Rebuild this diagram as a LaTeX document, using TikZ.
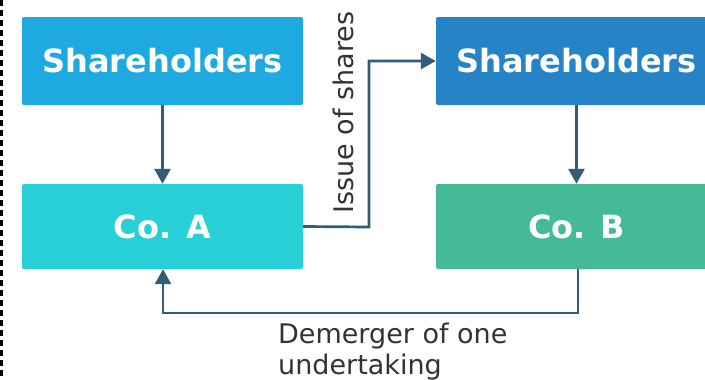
\documentclass[tikz,border=0pt]{standalone}
\usepackage{fontspec}
\setmainfont{DejaVu Sans}
\usetikzlibrary{arrows.meta}
\definecolor{cShA}{HTML}{1EAAE1}
\definecolor{cCoA}{HTML}{29CFD6}
\definecolor{cShB}{HTML}{2684C6}
\definecolor{cCoB}{HTML}{44BA96}
\definecolor{cArr}{HTML}{335C78}
\definecolor{cTxt}{HTML}{333333}
\tikzset{
  box/.style={rectangle, rounded corners=2pt, minimum width=281pt, inner sep=0pt,
    text=white, font=\fontsize{32}{36}\selectfont\bfseries},
  topbox/.style={box, minimum height=88pt},
  botbox/.style={box, minimum height=85pt},
  conn/.style={draw=cArr, line width=2.7pt, -{Triangle[length=15pt,width=16pt]}},
  lbl/.style={text=cTxt, font=\fontsize{27}{31}\selectfont, inner sep=0pt}
}
\begin{document}
\begin{tikzpicture}[x=1pt,y=-1pt]
\clip (0,0) rectangle (705,380);
\fill[white] (0,0) rectangle (705,380);
\draw[black, line width=2.5pt, dash pattern=on 6pt off 4pt] (1.5,0) -- (1.5,380);
\node[topbox, fill=cShA] (sha) at (162.5,61) {Shareholders};
\node[botbox, fill=cCoA] (coa) at (162.5,226.5) {Co. A};
\node[topbox, fill=cShB] (shb) at (576.5,61) {Shareholders};
\node[botbox, fill=cCoB] (cob) at (576.5,226.5) {Co. B};
\coordinate (i1) at (369,227);
\coordinate (i2) at (369,61);
\coordinate (d1) at (578,313);
\coordinate (d2) at (163,313);
\draw[conn] (sha.south) -- (coa.north);
\draw[conn] (shb.south) -- (cob.north);
\draw[conn] (coa.east) -- (i1) -- (i2) -- (shb.west);
\draw[conn] (cob.south -| d1) -- (d1) -- (d2) -- (coa.south -| d2);
\node[lbl, rotate=90, anchor=base] (lis) at (353,112.5) {Issue of shares};
\node[lbl, align=left, anchor=north west] (ldm) at (278,322.5) {Demerger of one\\undertaking};
\end{tikzpicture}
\end{document}
